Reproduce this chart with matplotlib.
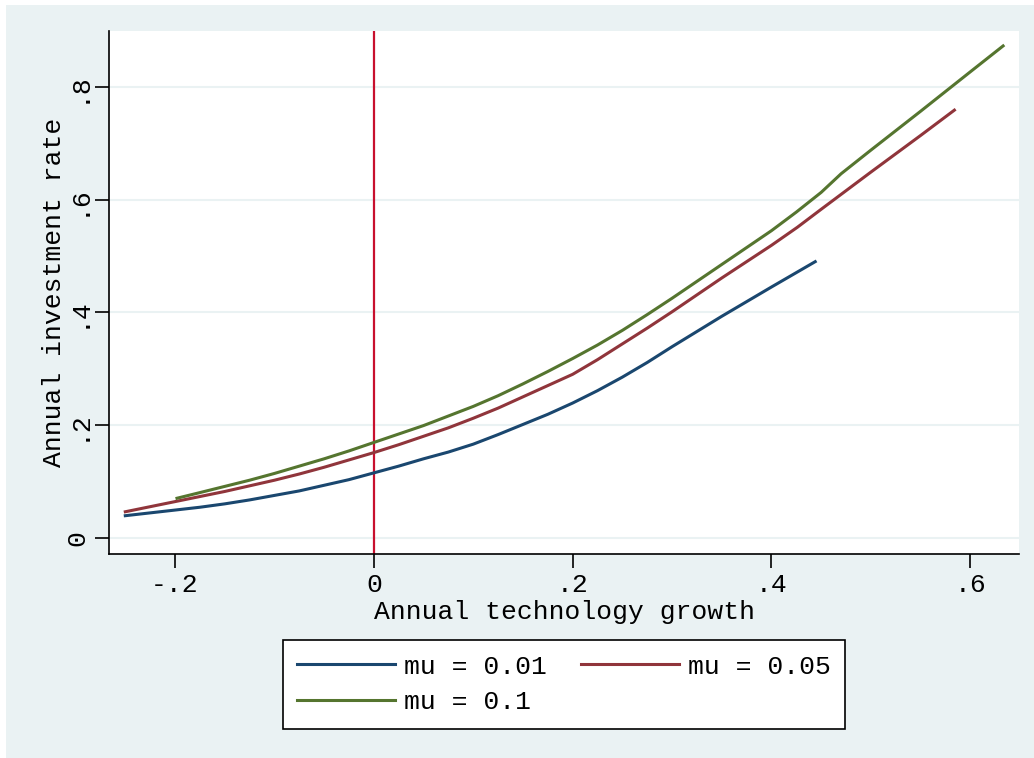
import matplotlib
matplotlib.use("Agg")
import matplotlib.pyplot as plt
from matplotlib.patches import Rectangle

# Data -----------------------------------------------------
x_mu01 = [-0.25, -0.225, -0.2, -0.175, -0.15, -0.125, -0.1, -0.075, -0.05, -0.025,
          0.0, 0.025, 0.05, 0.075, 0.1, 0.125, 0.15, 0.175, 0.2, 0.225,
          0.25, 0.275, 0.3, 0.35, 0.4, 0.444]
y_mu01 = [0.039, 0.044, 0.049, 0.054, 0.060, 0.067, 0.075, 0.083, 0.093, 0.103,
          0.115, 0.127, 0.140, 0.152, 0.166, 0.183, 0.201, 0.219, 0.239, 0.261,
          0.285, 0.311, 0.339, 0.393, 0.445, 0.490]

x_mu05 = [-0.25, -0.225, -0.2, -0.175, -0.15, -0.125, -0.1, -0.075, -0.05, -0.025,
          0.0, 0.025, 0.05, 0.075, 0.1, 0.125, 0.15, 0.175, 0.2, 0.225,
          0.25, 0.275, 0.3, 0.325, 0.35, 0.375, 0.4, 0.426, 0.45, 0.5, 0.55, 0.584]
y_mu05 = [0.046, 0.055, 0.064, 0.073, 0.082, 0.092, 0.102, 0.113, 0.125, 0.138,
          0.151, 0.165, 0.180, 0.195, 0.212, 0.230, 0.250, 0.270, 0.290, 0.316,
          0.344, 0.372, 0.401, 0.431, 0.461, 0.490, 0.519, 0.551, 0.583, 0.649, 0.714, 0.759]

x_mu10 = [-0.198, -0.175, -0.15, -0.125, -0.1, -0.075, -0.05, -0.025, 0.0, 0.025,
          0.05, 0.075, 0.1, 0.125, 0.15, 0.175, 0.2, 0.225, 0.25, 0.275,
          0.3, 0.325, 0.35, 0.375, 0.4, 0.425, 0.45, 0.47, 0.5, 0.55, 0.6, 0.633]
y_mu10 = [0.070, 0.080, 0.091, 0.102, 0.114, 0.127, 0.140, 0.154, 0.169, 0.184,
          0.199, 0.216, 0.233, 0.252, 0.273, 0.295, 0.318, 0.342, 0.368, 0.396,
          0.425, 0.455, 0.485, 0.515, 0.545, 0.578, 0.613, 0.646, 0.688, 0.757, 0.827, 0.873]

labels = ["mu = 0.01", "mu = 0.05", "mu = 0.1"]
xticks = [-0.2, 0, 0.2, 0.4, 0.6]
xticklabels = ["-.2", "0", ".2", ".4", ".6"]
yticks = [0, 0.2, 0.4, 0.6, 0.8]
yticklabels = ["0", ".2", ".4", ".6", ".8"]
#-----------------------------------------------------------

BG = "#EAF2F3"
FS = 19
plt.rcParams["font.family"] = ["Liberation Mono", "DejaVu Sans Mono"]

fig = plt.figure(figsize=(10.34, 7.58), dpi=100)
fig.patches.append(Rectangle((6 / 1034, 0), 1, 1 - 5 / 758, transform=fig.transFigure,
                             facecolor=BG, edgecolor="none", zorder=-10))

ax = fig.add_axes([109 / 1034, 1 - 554 / 758, 910 / 1034, 523 / 758])
ax.set_facecolor("white")

l1, = ax.plot(x_mu01, y_mu01, color="#1a476f", lw=2.2, label=labels[0])
l2, = ax.plot(x_mu05, y_mu05, color="#90353b", lw=2.2, label=labels[1])
l3, = ax.plot(x_mu10, y_mu10, color="#55752f", lw=2.2, label=labels[2])
ax.axvline(0, color="#c8102e", lw=1.6, zorder=1)

ax.set_xlim(-0.2664, 0.649)
ax.set_ylim(-0.0290, 0.8995)
ax.set_xticks(xticks)
ax.set_xticklabels(xticklabels)
ax.set_yticks(yticks)
ax.set_yticklabels(yticklabels, rotation=90, va="center")
ax.yaxis.grid(True, color=BG, lw=1.5)
ax.set_axisbelow(True)

for s in ["top", "right"]:
    ax.spines[s].set_visible(False)
for s in ["left", "bottom"]:
    ax.spines[s].set_color("black")
    ax.spines[s].set_linewidth(1.2)
ax.tick_params(direction="out", length=10, width=1.2, labelsize=FS, pad=4)

ax.set_xlabel("Annual technology growth", fontsize=FS, labelpad=2)
ax.set_ylabel("Annual investment rate", fontsize=FS, labelpad=0)

# row-major order like the original: (0.01, 0.05) / (0.1)
leg = ax.legend([l1, l3, l2], [labels[0], labels[2], labels[1]],
                loc="upper center", bbox_to_anchor=(564 / 1034, 1 - 640 / 758),
                bbox_transform=fig.transFigure, ncol=2, fontsize=FS,
                frameon=True, fancybox=False, framealpha=1,
                handlelength=3.7, handletextpad=0.35, columnspacing=1.3,
                borderpad=0.55, labelspacing=0.45, borderaxespad=0)
leg.get_frame().set_edgecolor("black")
leg.get_frame().set_linewidth(1.2)

fig.savefig("out.png", dpi=100)
